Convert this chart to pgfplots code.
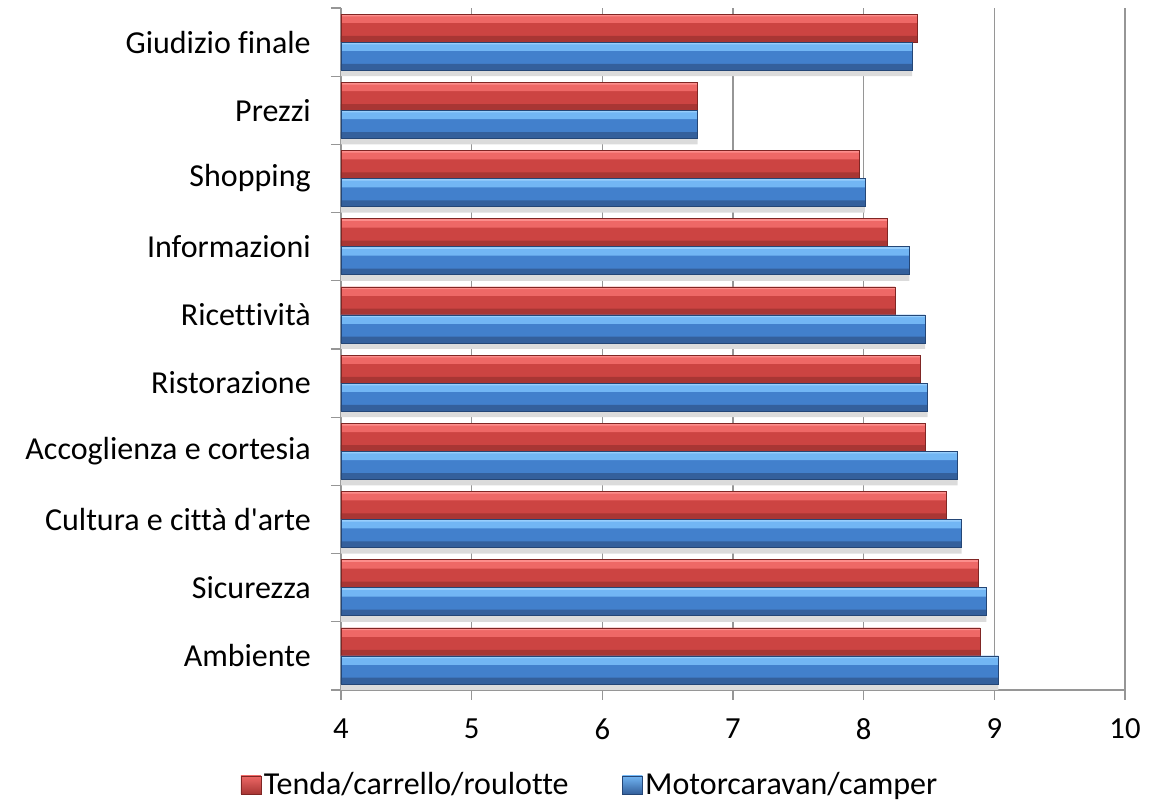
\documentclass[border=0pt]{standalone}
\usepackage{pgfplots}
\pgfplotsset{compat=1.18}
\usepackage{fontspec}
\setmainfont{Carlito}[Ligatures=NoCommon]
\definecolor{redhi}{RGB}{252,142,140}
\definecolor{redtop}{RGB}{238,104,102}
\definecolor{redmid}{RGB}{204,68,66}
\definecolor{redbot}{RGB}{168,54,52}
\definecolor{redline}{RGB}{128,38,36}
\definecolor{bluehi}{RGB}{152,206,252}
\definecolor{bluetop}{RGB}{114,182,244}
\definecolor{bluemid}{RGB}{66,128,204}
\definecolor{bluebot}{RGB}{52,96,156}
\definecolor{blueline}{RGB}{36,70,118}
\definecolor{gridgray}{RGB}{150,150,150}

% 0 = Ambiente (bottom) ... 9 = Giudizio finale (top)
\pgfplotstableread{
y tenda motor
0 8.89 9.03
1 8.88 8.94
2 8.63 8.75
3 8.47 8.72
4 8.43 8.49
5 8.24 8.47
6 8.18 8.35
7 7.97 8.01
8 6.73 6.73
9 8.41 8.37
}\datatable

\pgfplotsset{
  band/.style 2 args={forget plot, draw=none, fill=#1, bar width=#2},
}

\begin{document}
\begin{tikzpicture}
\path[use as bounding box] (0,0) rectangle (862.5pt,603.75pt);
\begin{axis}[
    at={(255.75pt,86.25pt)}, anchor=south west,
    scale only axis,
    width=588pt, height=511.5pt,
    xmin=4, xmax=10,
    ymin=-0.5, ymax=9.5,
    xtick={4,...,10},
    ytick={0,...,9},
    yticklabels={Ambiente,Sicurezza,Cultura e città d\textquotesingle arte,Accoglienza e cortesia,Ristorazione,Ricettività,Informazioni,Shopping,Prezzi,Giudizio finale},
    minor ytick={-0.5,0.5,...,9.5},
    axis lines*=left,
    axis line style={gridgray, line width=0.9pt},
    tick align=outside,
    major tick length=7.5pt,
    minor tick length=7.5pt,
    every major y tick/.style={draw=none},
    every minor y tick/.style={gridgray, line width=0.9pt},
    every major x tick/.style={gridgray, line width=0.9pt},
    xmajorgrids,
    grid style={gridgray, line width=0.9pt},
    /pgf/number format/assume math mode=true,
    tick label style={text=black},
    yticklabel style={font=\fontsize{24}{28}\selectfont, inner sep=0pt, xshift=-15pt},
    xticklabel style={font=\fontsize{23}{27}\selectfont, inner sep=0pt, yshift=-14pt},
    xbar,
    legend style={
        at={(axis description cs:0.318,-0.139)}, anchor=center,
        draw=none, fill=none,
        font=\fontsize{24}{28}\selectfont,
        legend columns=2,
        /tikz/every even column/.append style={column sep=38pt},
        inner sep=0pt,
    },
]
% shadow below each pair
\addplot[band={black!14}{0.09}, bar shift=-0.455] table[x=motor, y=y] {\datatable};

% Tenda/carrello/roulotte (upper bar of each pair)
\addplot[draw=none, fill=redmid, bar width=0.41, bar shift=0.205,
    legend image code/.code={\draw[draw=redline, line width=0.4pt, top color=redtop, bottom color=redbot] (0pt,-6.75pt) rectangle (15pt,6.75pt);}]
    table[x=tenda, y=y] {\datatable};
\addlegendentry{Tenda/carrello/roulotte}
\addplot[band={redtop}{0.13}, bar shift=0.345] table[x=tenda, y=y] {\datatable};
\addplot[band={redhi}{0.03}, bar shift=0.393] table[x=tenda, y=y] {\datatable};
\addplot[band={redbot}{0.09}, bar shift=0.045] table[x=tenda, y=y] {\datatable};
\addplot[forget plot, draw=redline, line width=0.5pt, fill=none, bar width=0.41, bar shift=0.205]
    table[x=tenda, y=y] {\datatable};

% Motorcaravan/camper (lower bar of each pair)
\addplot[draw=none, fill=bluemid, bar width=0.41, bar shift=-0.205,
    legend image code/.code={\draw[draw=blueline, line width=0.4pt, top color=bluetop, bottom color=bluebot] (0pt,-6.75pt) rectangle (15pt,6.75pt);}]
    table[x=motor, y=y] {\datatable};
\addlegendentry{Motorcaravan/camper}
\addplot[band={bluetop}{0.13}, bar shift=-0.065] table[x=motor, y=y] {\datatable};
\addplot[band={bluehi}{0.03}, bar shift=-0.017] table[x=motor, y=y] {\datatable};
\addplot[band={bluebot}{0.09}, bar shift=-0.365] table[x=motor, y=y] {\datatable};
\addplot[forget plot, draw=blueline, line width=0.5pt, fill=none, bar width=0.41, bar shift=-0.205]
    table[x=motor, y=y] {\datatable};
\end{axis}
\end{tikzpicture}
\end{document}
